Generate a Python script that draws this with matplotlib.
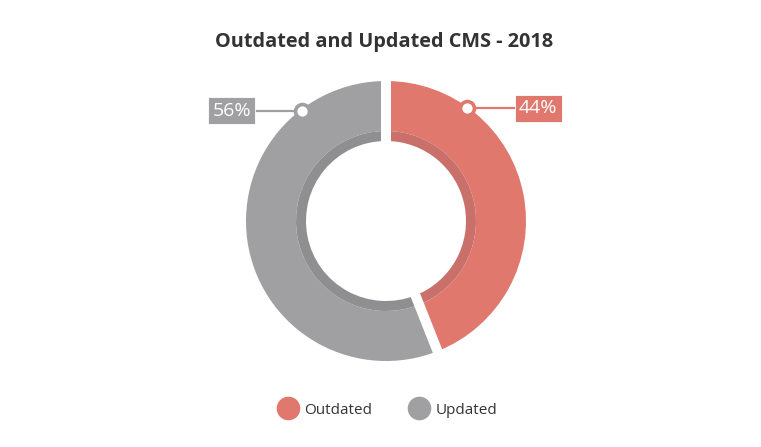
import matplotlib
matplotlib.use("Agg")
import matplotlib.pyplot as plt
from matplotlib.lines import Line2D
import numpy as np

plt.rcParams['font.family'] = ['Open Sans', 'DejaVu Sans']

categories = ["Outdated", "Updated"]
values = [44, 56]
labels = ["44%", "56%"]
colors = ["#E0786E", "#A0A0A2"]
inner_colors = ["#C9706A", "#8F8F91"]
title = "Outdated and Updated CMS - 2018"

W, H = 761, 447
fig = plt.figure(figsize=(W / 100, H / 100), dpi=100)
ax = fig.add_axes([0, 0, 1, 1])

cx, cy = 386, H - 221
R = 140
gap_lw = 7.2

ax.pie(values, colors=colors, startangle=90, counterclock=False,
       center=(cx, cy), radius=R, frame=True,
       wedgeprops=dict(width=R - 90, linewidth=0))
ax.pie(values, colors=inner_colors, startangle=90, counterclock=False,
       center=(cx, cy), radius=90, frame=True,
       wedgeprops=dict(width=10, linewidth=0))

# white separators at slice boundaries
bounds = np.cumsum([0] + values) / sum(values) * 360.0
for b in bounds[:-1]:
    a = np.deg2rad(b)
    ax.plot([cx, cx + (R + 6) * np.sin(a)], [cy, cy + (R + 6) * np.cos(a)],
            color="white", lw=gap_lw, solid_capstyle="butt", zorder=2.5)

# label markers (angle clockwise from top), box offsets in px
label_angles = [35.8, -37.4]
box_dx = [71, -70]
for ang, lab, col, dx in zip(label_angles, labels, colors, box_dx):
    a = np.deg2rad(ang)
    px = cx + 139 * np.sin(a)
    py = cy + 139 * np.cos(a)
    bx = px + dx
    ax.plot([px, bx], [py, py], color=col, lw=1.6, zorder=3)
    ax.plot([px], [py], marker="o", ms=10, mfc="white", mec=col, mew=2.6, zorder=4)
    ax.text(bx, py, lab, ha="center", va="center", color="white", fontsize=14,
            zorder=5,
            bbox=dict(boxstyle="square,pad=0.22", fc=col, ec="#ffffff", lw=0.6, alpha=1))

ax.text(W / 2 + 4, H - 42, title, ha="center", va="center", fontsize=14.3,
        fontweight="bold", color="#333333")

handles = [Line2D([], [], marker="o", ls="", ms=16, mfc=c, mec=c) for c in colors]
ax.legend(handles, categories, loc="center", bbox_to_anchor=(385 / W, 1 - 410 / H),
          ncol=2, frameon=False, fontsize=11, handletextpad=0.1, columnspacing=2.05,
          labelcolor="#333333")

ax.set_xlim(0, W)
ax.set_ylim(0, H)
ax.set_aspect("equal")
ax.axis("off")

fig.savefig("out.png", dpi=100, facecolor="white")
